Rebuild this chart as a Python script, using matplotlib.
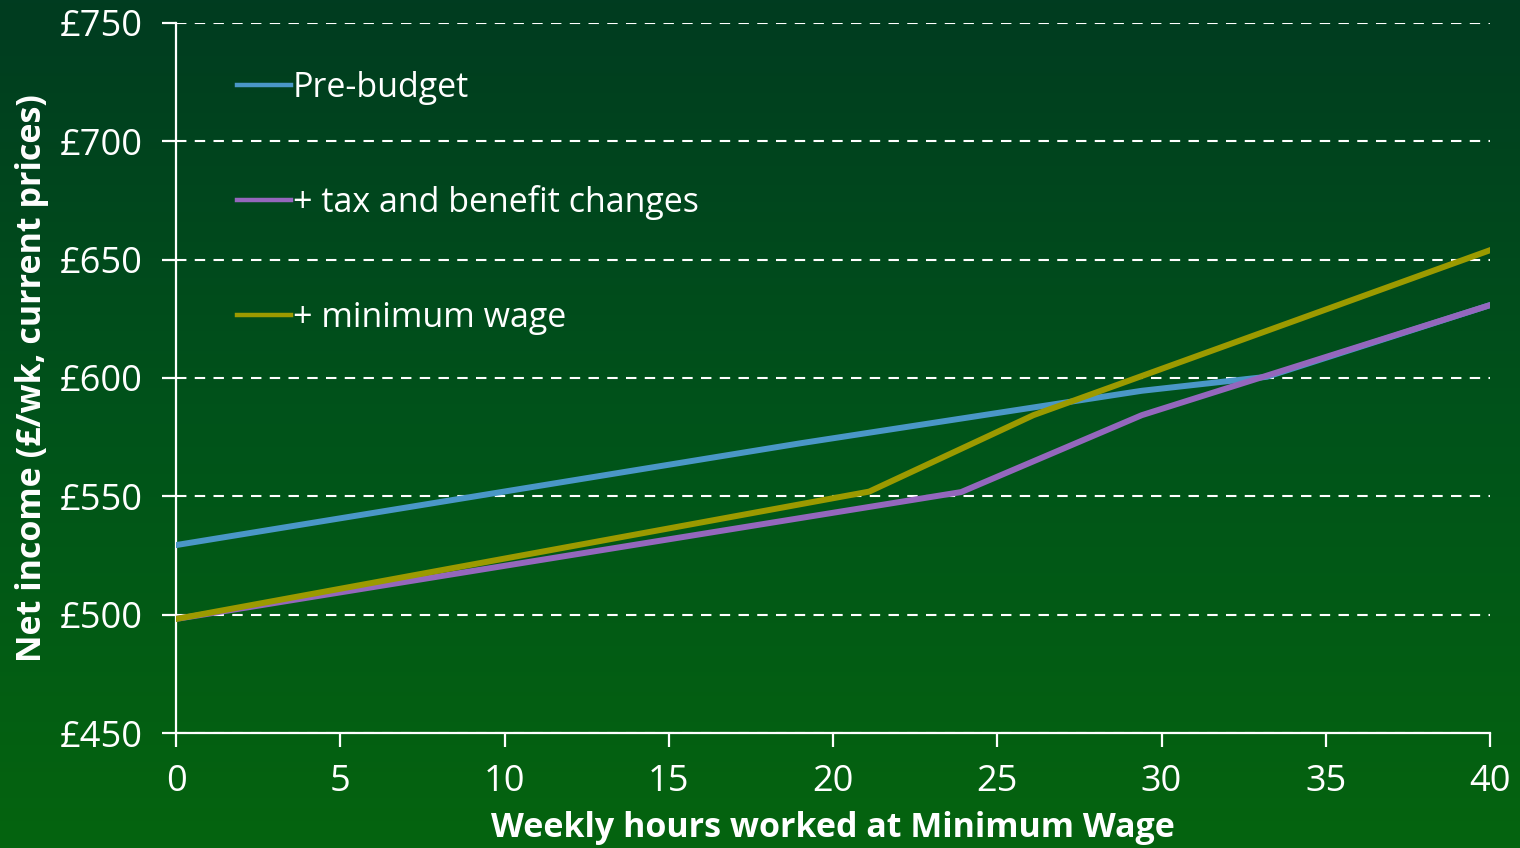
import numpy as np
import matplotlib.pyplot as plt
from matplotlib.colors import LinearSegmentedColormap

plt.rcParams['font.family'] = ['Open Sans', 'DejaVu Sans']

# Net weekly income by hours worked at the minimum wage
pre_hours = [0, 19.0, 29.4, 33.2, 40]
pre_income = [529.4, 572.4, 594.6, 600.5, 630.8]

tax_hours = [0, 23.9, 29.4, 40]
tax_income = [498.2, 551.8, 584.3, 630.8]

mw_hours = [0, 21.1, 26.1, 40]
mw_income = [498.2, 552.0, 584.3, 654.0]

labels = ["Pre-budget", "+ tax and benefit changes", "+ minimum wage"]
colors = ["#4a97c7", "#9467bd", "#9c9a00"]
y_ticks = [450, 500, 550, 600, 650, 700, 750]
x_ticks = [0, 5, 10, 15, 20, 25, 30, 35, 40]

fig = plt.figure(figsize=(15.2, 8.48), dpi=100)

# vertical green gradient behind everything
bg = fig.add_axes([0, 0, 1, 1], zorder=-10)
cmap = LinearSegmentedColormap.from_list("bg", ["#003c20", "#00531a", "#05640f"])
bg.imshow(np.linspace(0, 1, 256).reshape(-1, 1), aspect="auto", cmap=cmap,
          extent=[0, 1, 0, 1])
bg.axis("off")

ax = fig.add_axes([0.1158, 0.1356, 0.8645, 0.8373])
ax.set_facecolor("none")

ax.plot(pre_hours, pre_income, color=colors[0], lw=4.3, label=labels[0], zorder=3)
ax.plot(tax_hours, tax_income, color=colors[1], lw=4.3, label=labels[1], zorder=4)
ax.plot(mw_hours, mw_income, color=colors[2], lw=4.3, label=labels[2], zorder=5)

ax.set_xlim(0, 40)
ax.set_ylim(450, 750)
ax.set_xticks(x_ticks)
ax.set_yticks(y_ticks)
ax.set_yticklabels([f"£{v}" for v in y_ticks])

ax.grid(axis="y", color="white", linestyle=(0, (5, 4)), linewidth=1.5, zorder=1)
for s in ["top", "right"]:
    ax.spines[s].set_visible(False)
for s in ["left", "bottom"]:
    ax.spines[s].set_color("white")
    ax.spines[s].set_linewidth(1.6)
ax.tick_params(colors="white", labelsize=26, length=10, width=1.6)
ax.tick_params(axis="x", pad=12)
ax.tick_params(axis="y", pad=14)

ax.set_xlabel("Weekly hours worked at Minimum Wage", color="white",
              fontsize=24.5, fontweight="bold", labelpad=8)
ax.set_ylabel("Net income (£/wk, current prices)", color="white",
              fontsize=24.5, fontweight="bold", labelpad=8)

leg = ax.legend(loc="upper left", bbox_to_anchor=(0.023, 0.976), frameon=False,
                fontsize=24.5, handlelength=1.6, handletextpad=0.05,
                labelspacing=2.37, labelcolor="white")
for h in leg.get_lines():
    h.set_linewidth(3.2)

fig.savefig("out.png", dpi=100)
